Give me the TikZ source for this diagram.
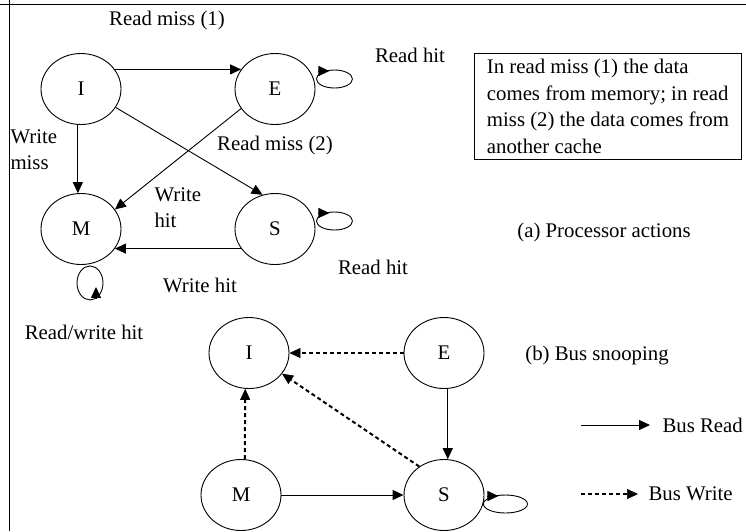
\documentclass[tikz,border=0pt]{standalone}
\usepackage{fontspec}
\setmainfont{Liberation Serif}
\usetikzlibrary{shapes.geometric}
\usetikzlibrary{arrows.meta}
\usetikzlibrary{math}

\tikzset{
	txt/.style = {font=\fontsize{20.8}{25.7}\selectfont},
	cstate/.style = {draw, ellipse, txt, minimum width=80pt, minimum height=71pt, inner sep=0pt, line width=0.9pt},
	arr/.style = {-{Triangle[length=11pt,width=10pt]}, line width=0.9pt},
	snoop/.style = {-{Triangle[length=11pt,width=10pt,line width=0.6pt]}, line width=2pt, dash pattern=on 4pt off 3pt},
	loopline/.style = {line width=0.9pt}
}

\begin{document}
\begin{tikzpicture}[x=1pt, y=-1pt]

	\useasboundingbox (0,0) rectangle (746,531);
	\draw[line width=1.2pt] (0,4.3) -- (746,4.3);
	\draw[line width=1.2pt] (9.3,0) -- (9.3,531);

	\tikzmath{\xa = 81; \xb = 275; \ya = 89; \yb = 229;};
	\node[cstate] (pI) at (\xa,\ya) {I};
	\node[cstate] (pE) at (\xb,\ya) {E};
	\node[cstate] (pM) at (\xa,\yb) {M};
	\node[cstate] (pS) at (\xb,\yb) {S};

	\draw[arr] (pI.30) -- (pE.150);
	\draw[arr] (pI.265) -- (pM.95);
	\draw[arr] (pI.-28) -- (pS.110);
	\draw[arr] (pE.210) -- (pM.30);
	\draw[arr] (pS.210) -- (pM.-30);

	\draw[loopline] ([xshift=19pt,yshift=10pt]pE.east) ellipse [x radius=18pt, y radius=9pt];
	\draw[arr] ([xshift=3pt,yshift=18pt]pE.east) -- ++(11pt,0pt);
	\draw[loopline] ([xshift=19pt,yshift=8pt]pS.east) ellipse [x radius=18pt, y radius=9pt];
	\draw[arr] ([xshift=3pt,yshift=16pt]pS.east) -- ++(11pt,0pt);
	\draw[loopline] ([xshift=9pt,yshift=-18pt]pM.south) ellipse [x radius=13pt, y radius=17pt];
	\draw[arr] ([xshift=15pt,yshift=-33pt]pM.south) -- ++(0pt,11pt);

	\node[txt] (rm1) at (167,20) {Read miss (1)};
	\node[txt] (rh1) at (410,55) {Read hit};
	\node[txt, draw, line width=0.9pt, anchor=north west, align=left, inner xsep=10pt, inner ysep=5pt, minimum width=267pt, minimum height=106pt] (note) at (474,53)
		{In read miss (1) the data\\[0.8pt]comes from memory; in read\\[0.8pt]miss (2) the data comes from\\[0.8pt]another cache};
	\node[txt] (rm2) at (275,145) {Read miss (2)};
	\node[txt, anchor=west, align=left] (wm) at (7,150) {Write\\miss};
	\node[txt, anchor=west, align=left] (wh1) at (151,208) {Write\\hit};
	\node[txt] (wh2) at (200,285) {Write hit};
	\node[txt] (rh2) at (373,267) {Read hit};
	\node[txt] (pa) at (604,232) {(a) Processor actions};
	\node[txt] (rwh) at (84,332) {Read/write hit};

	\tikzmath{\xc = 249; \xd = 444; \yc = 353; \yd = 495;};
	\node[cstate] (bI) at (\xc,\yc) {I};
	\node[cstate] (bE) at (\xd,\yc) {E};
	\node[cstate] (bM) at (\xc-8,\yd) {M};
	\node[cstate] (bS) at (\xd,\yd) {S};

	\draw[snoop] (bE.west) -- (bI.east);
	\draw[arr] (bE.-84) -- (bS.84);
	\draw[snoop] (bM.84) -- (bI.-96);
	\draw[snoop] (bS.131) -- (bI.-32);
	\draw[arr] (bM.east) -- (bS.west);

	\draw[loopline] ([xshift=21pt,yshift=-9pt]bS.east) ellipse [x radius=22pt, y radius=9pt];
	\draw[arr] ([xshift=3pt,yshift=-1pt]bS.east) -- ++(11pt,0pt);

	\node[txt] (bsn) at (597,356) {(b) Bus snooping};

	\coordinate (lr) at (581,425);
	\node[txt, anchor=west] (bread) at (659,425) {Bus Read};
	\draw[arr] (lr) -- ([xshift=-9pt]bread.west);
	\coordinate (lw) at (581,494);
	\node[txt, anchor=west] (bwrite) at (645,494) {Bus Write};
	\draw[snoop] (lw) -- ([xshift=-7pt]bwrite.west);

\end{tikzpicture}
\end{document}
